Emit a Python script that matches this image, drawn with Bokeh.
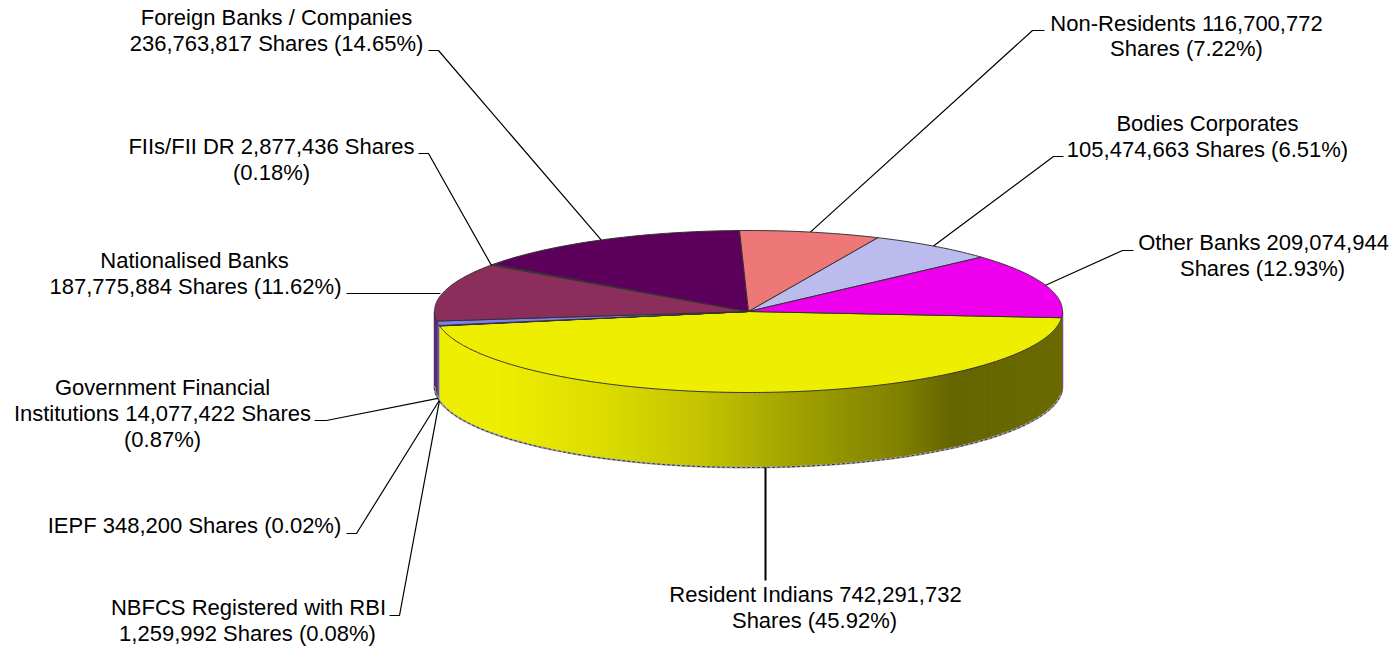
import numpy as np
from bokeh.plotting import figure
from bokeh.core.properties import value
from bokeh.embed import file_html
from bokeh.resources import INLINE

# --- data ---
categories = ["Resident Indians", "NBFCS Registered with RBI", "IEPF",
              "Government Financial Institutions", "Nationalised Banks",
              "FIIs/FII DR", "Foreign Banks / Companies", "Non-Residents",
              "Bodies Corporates", "Other Banks"]
shares = [742291732, 1259992, 348200, 14077422, 187775884,
          2877436, 236763817, 116700772, 105474663, 209074944]
percents = [45.92, 0.08, 0.02, 0.87, 11.62, 0.18, 14.65, 7.22, 6.51, 12.93]

# --- style / layout ---
top_colors = ["#EEEE00", "#7777DD", "#7777DD", "#8080F0", "#8B2E5C",
              "#7A3A8A", "#5C005C", "#EE7777", "#BBBBEE", "#EE00EE"]
side_colors = ["#EEEE00", "#4A4AA0", "#4A4AA0", "#5A5AC0", "#5A2A70",
               "#5A2A70", "#3A003A", "#A05050", "#8080A0", "#805080"]
CX, CY, RX, RY, DEPTH = 748.0, 311.0, 314.0, 81.0, 75.0
START = 4.4
FONT = "Liberation Sans"
FS = "22px"

stops_x = [438, 500, 600, 700, 800, 900, 950, 1062]
stops_v = [0xEE, 0xEE, 0xDD, 0xC4, 0xA0, 0x80, 0x66, 0x6B]

W, H = 1395, 648
p = figure(width=W, height=H, x_range=(0, W), y_range=(H, 0),
           output_backend="svg", toolbar_location=None, min_border=0,
           outline_line_color=None, background_fill_color="white",
           border_fill_color="white")
p.axis.visible = False
p.grid.visible = False

frac = np.array(shares, dtype=float)
frac = frac / frac.sum() * 360.0
starts = START + np.concatenate([[0], np.cumsum(frac)[:-1]])
ends = starts + frac
mids = (starts + ends) / 2


def pt(t, dy=0.0):
    r = np.radians(t)
    return CX + RX * np.cos(r), CY + RY * np.sin(r) + dy


# side wall: flat parts first, then the gradient of the largest slice
for i in range(len(shares)):
    for off in (0, 360):
        a, b = max(starts[i] - off, 0), min(ends[i] - off, 180)
        if b <= a or i == 0:
            continue
        ts = np.linspace(a, b, 12)
        x, y = pt(ts)
        p.patch(list(x) + list(x[::-1]), list(y) + list((y + DEPTH)[::-1]),
                fill_color=side_colors[i], line_color=side_colors[i], line_width=1.5)

ts = np.arange(starts[0], ends[0] + 0.5, 1.0)
xs_s, ys_s, cols = [], [], []
for a, b in zip(ts[:-1], ts[1:]):
    (x0, y0), (x1, y1) = pt(a), pt(b)
    xs_s.append([x0, x1, x1, x0])
    ys_s.append([y0, y1, y1 + DEPTH, y0 + DEPTH])
    v = int(np.interp((x0 + x1) / 2, stops_x, stops_v))
    cols.append(f"#{v:02x}{v:02x}00")
p.patches(xs_s, ys_s, fill_color=cols, line_color=cols, line_width=1)

# lower rim
ts = np.linspace(starts[0], 180, 200)
x, y = pt(ts, DEPTH)
p.line(x, y, line_color="#aaaaaa", line_width=2)
p.line(x, y, line_color="#333333", line_width=1, line_dash="3 2")

# top slices
xs_t, ys_t = [], []
for a, b in zip(starts, ends):
    n = max(int((b - a) * 2), 2)
    x, y = pt(np.linspace(a, b, n))
    xs_t.append([CX] + list(x))
    ys_t.append([CY] + list(y))
p.patches(xs_t, ys_t, fill_color=top_colors, line_color="#333333", line_width=1)

# leader lines: label end, elbow, then a point on the slice's rim
leaders = {
    0: [(765, 580), None],
    1: [(389, 615), (399, 615), None],
    2: [(346, 533), (356, 533), None],
    3: [(314, 420), (326, 420), None],
    4: [(346, 293), None],
    5: [(418, 153), (428, 153), None],
    6: [(428, 50), (438, 50), None],
    7: [(1044, 30), (1032, 30), None],
    8: [(1063, 156), (1053, 156), None],
    9: [(1133, 250), (1122, 250), None],
}
for i, path in leaders.items():
    lower = i <= 3
    ax, ay = pt(mids[i], DEPTH if lower else 0)
    if i == 0:
        ax = 765
    if i == 4:
        ax, ay = 440, 293
    if i == 5:
        ax, ay = 491, 265
    pts = [(ax, ay) if q is None else q for q in path]
    p.line([q[0] for q in pts], [q[1] for q in pts], line_color="black",
           line_width=2 if i == 0 else 1.2)


def f(n):
    return f"{n:,}"


lines = [
    (f"Resident Indians {f(shares[0])}", 815, 594), (f"Shares ({percents[0]:.2f}%)", 814, 620),
    ("NBFCS Registered with RBI", 248, 607), (f"{f(shares[1])} Shares ({percents[1]:.2f}%)", 247, 633),
    (f"IEPF {f(shares[2])} Shares ({percents[2]:.2f}%)", 194, 525),
    ("Government Financial", 162, 387), (f"Institutions {f(shares[3])} Shares", 162, 413), (f"({percents[3]:.2f}%)", 162, 439),
    ("Nationalised Banks", 194, 260), (f"{f(shares[4])} Shares ({percents[4]:.2f}%)", 195, 286),
    (f"FIIs/FII DR {f(shares[5])} Shares", 271, 146), (f"({percents[5]:.2f}%)", 271, 172),
    ("Foreign Banks / Companies", 276, 17), (f"{f(shares[6])} Shares ({percents[6]:.2f}%)", 276, 43),
    (f"Non-Residents {f(shares[7])}", 1186, 23), (f"Shares ({percents[7]:.2f}%)", 1186, 48),
    ("Bodies Corporates", 1207, 123), (f"{f(shares[8])} Shares ({percents[8]:.2f}%)", 1207, 149),
    (f"Other Banks {f(shares[9])}", 1263, 242), (f"Shares ({percents[9]:.2f}%)", 1262, 268),
]
p.text([l[1] for l in lines], [l[2] for l in lines], text=[l[0] for l in lines],
       text_font=value(FONT), text_font_size=value(FS), text_color="black",
       text_align="center", text_baseline="middle")

open("out.html", "w").write(file_html(p, INLINE))
